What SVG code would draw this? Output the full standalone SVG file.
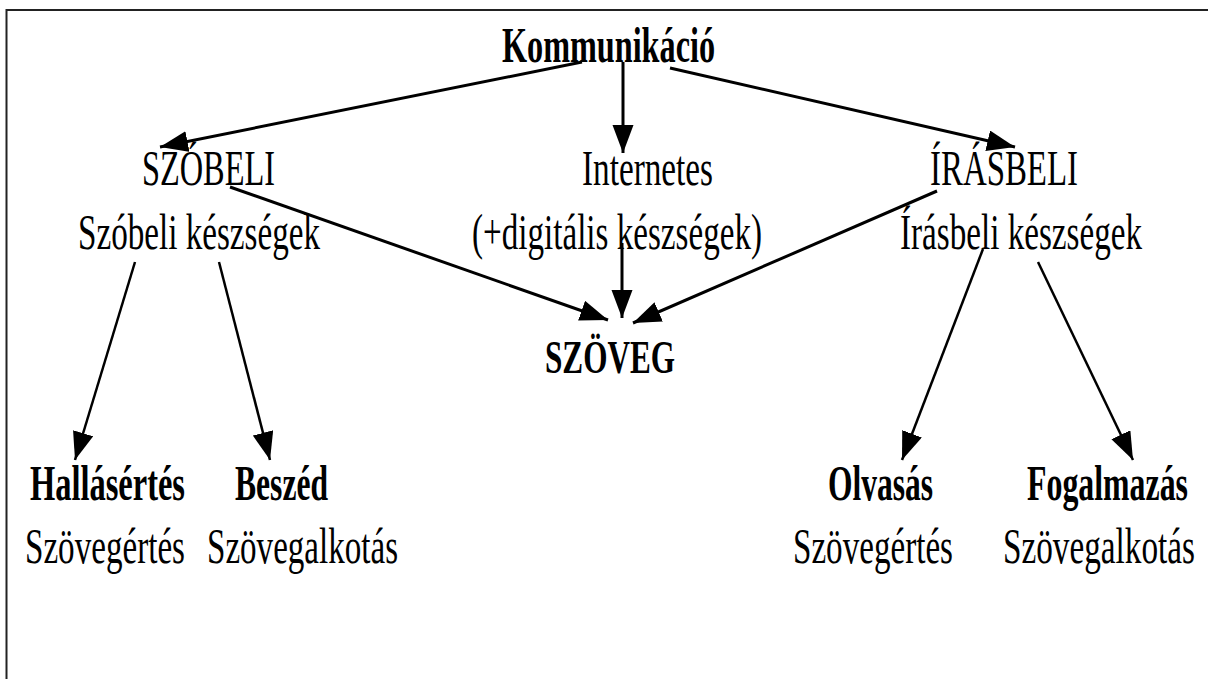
<svg xmlns="http://www.w3.org/2000/svg" width="1208" height="679" viewBox="0 0 1208 679">
<style>
text{font-family:"Liberation Serif","Times New Roman",serif;fill:#000;font-size:50px}
.b{font-weight:bold}
.c{stroke:#000;fill:none;stroke-width:3;marker-end:url(#ah)}
.c2{stroke:#000;fill:none;stroke-width:2.5;marker-end:url(#ah)}
</style>
<defs>
<marker id="ah" markerUnits="userSpaceOnUse" markerWidth="30" markerHeight="22" refX="28" refY="10.5" orient="auto">
<path d="M0,0 L28,10.5 L0,21 z" fill="#000"/>
</marker>
</defs>
<rect width="1208" height="679" fill="#fff"/>
<path d="M6.5,679 L6.5,10 L1208,10" fill="none" stroke="#222" stroke-width="2"/>
<g id="connectors">
<path class="c" d="M582,62 L160,147"/>
<path class="c" d="M623,62 L623,153"/>
<path class="c" d="M670,68 L1015,147"/>
<path class="c" d="M230,187 L608,320"/>
<path class="c" d="M622,243 L622,318"/>
<path class="c" d="M937,191 L633,323"/>
<path class="c2" d="M135,262 L75,460"/>
<path class="c2" d="M219,262 L270,460"/>
<path class="c2" d="M983,249 L902,460"/>
<path class="c2" d="M1038,262 L1133,460"/>
</g>
<g id="kommunikacio"><text class="b" x="502" y="62" textLength="213" lengthAdjust="spacingAndGlyphs">Kommunikáció</text></g>
<g id="szobeli">
<text x="142" y="185" textLength="133" lengthAdjust="spacingAndGlyphs">SZÓBELI</text>
<text x="78" y="249" textLength="242" lengthAdjust="spacingAndGlyphs">Szóbeli készségek</text>
</g>
<g id="internetes">
<text x="582" y="185" textLength="131" lengthAdjust="spacingAndGlyphs">Internetes</text>
<text x="472" y="249" textLength="290" lengthAdjust="spacingAndGlyphs">(+digitális készségek)</text>
</g>
<g id="irasbeli">
<text x="930" y="185" textLength="148" lengthAdjust="spacingAndGlyphs">ÍRÁSBELI</text>
<text x="900" y="249" textLength="242" lengthAdjust="spacingAndGlyphs">Írásbeli készségek</text>
</g>
<g id="szoveg"><text class="b" x="545" y="373" font-size="47" textLength="130" lengthAdjust="spacingAndGlyphs" style="font-size:47px">SZÖVEG</text></g>
<g id="hallasertes">
<text class="b" x="30" y="500" textLength="155" lengthAdjust="spacingAndGlyphs">Hallásértés</text>
<text x="25" y="563" textLength="160" lengthAdjust="spacingAndGlyphs">Szövegértés</text>
</g>
<g id="beszed">
<text class="b" x="235" y="500" textLength="93" lengthAdjust="spacingAndGlyphs">Beszéd</text>
<text x="207" y="563" textLength="191" lengthAdjust="spacingAndGlyphs">Szövegalkotás</text>
</g>
<g id="olvasas">
<text class="b" x="828" y="500" textLength="105" lengthAdjust="spacingAndGlyphs">Olvasás</text>
<text x="793" y="563" textLength="160" lengthAdjust="spacingAndGlyphs">Szövegértés</text>
</g>
<g id="fogalmazas">
<text class="b" x="1027" y="500" textLength="161" lengthAdjust="spacingAndGlyphs">Fogalmazás</text>
<text x="1003" y="563" textLength="192" lengthAdjust="spacingAndGlyphs">Szövegalkotás</text>
</g>
</svg>
